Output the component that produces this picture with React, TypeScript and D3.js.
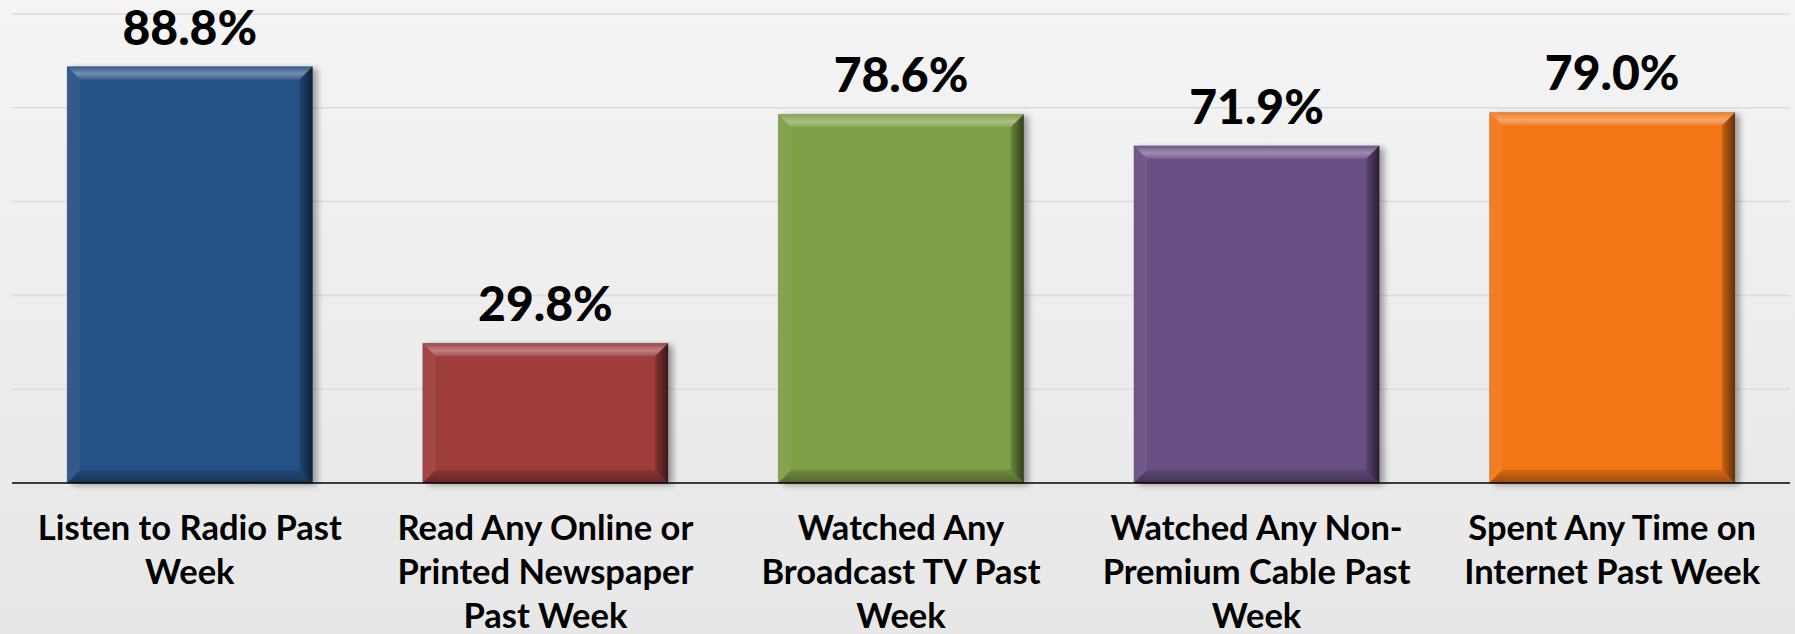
import React from "react";
import * as d3 from "d3";

const categories: string[][] = [
  ["Listen to Radio Past", "Week"],
  ["Read Any Online or", "Printed Newspaper", "Past Week"],
  ["Watched Any", "Broadcast TV Past", "Week"],
  ["Watched Any Non-", "Premium Cable Past", "Week"],
  ["Spent Any Time on", "Internet Past Week"],
];
const values: number[] = [88.8, 29.8, 78.6, 71.9, 79.0];
const colors: string[] = ["#265184", "#9e3b3b", "#7f9e45", "#674f83", "#f27512"];
const gridTicks: number[] = [20, 40, 60, 80, 100];

const W = 1795;
const H = 634;
const left = 12;
const right = 1790;
const baseY = 483;
const topY = 14;

export default function App() {
  const x = d3
    .scaleBand<number>()
    .domain(d3.range(values.length))
    .range([left, right])
    .paddingInner(0.31)
    .paddingOuter(0.155);
  const y = d3.scaleLinear().domain([0, 100]).range([baseY, topY]);
  const font = "Lato, 'Open Sans', sans-serif";
  const b = 13;

  return (
    <svg
      width={W}
      height={H}
      style={{ position: "absolute", left: 0, top: 0 }}
      xmlns="http://www.w3.org/2000/svg"
    >
      <defs>
        <linearGradient id="bg" x1="0" y1="0" x2="0" y2="1">
          <stop offset="0" stopColor="#f4f4f4" />
          <stop offset="1" stopColor="#e7e7e7" />
        </linearGradient>
        <linearGradient id="rightBand" x1="0" y1="0" x2="1" y2="0">
          <stop offset="0" stopColor="#000" stopOpacity="0.15" />
          <stop offset="1" stopColor="#000" stopOpacity="0.6" />
        </linearGradient>
        <linearGradient id="topBand" x1="0" y1="0" x2="0" y2="1">
          <stop offset="0" stopColor="#fff" stopOpacity="0.05" />
          <stop offset="0.55" stopColor="#fff" stopOpacity="0.35" />
          <stop offset="1" stopColor="#fff" stopOpacity="0.1" />
        </linearGradient>
        <linearGradient id="bottomBand" x1="0" y1="0" x2="0" y2="1">
          <stop offset="0" stopColor="#000" stopOpacity="0.12" />
          <stop offset="1" stopColor="#000" stopOpacity="0.35" />
        </linearGradient>
        <filter id="shadow" x="-10%" y="-10%" width="130%" height="130%">
          <feGaussianBlur in="SourceAlpha" stdDeviation="3" />
          <feOffset dx="5" dy="2" result="ob" />
          <feComponentTransfer>
            <feFuncA type="linear" slope="0.35" />
          </feComponentTransfer>
          <feMerge>
            <feMergeNode />
            <feMergeNode in="SourceGraphic" />
          </feMerge>
        </filter>
      </defs>
      <rect x={0} y={0} width={W} height={H} fill="url(#bg)" />
      {gridTicks.map((t) => (
        <line
          key={t}
          x1={left}
          x2={right}
          y1={y(t)}
          y2={y(t)}
          stroke="#dcdcdc"
          strokeWidth={1.5}
        />
      ))}
      {values.map((v, i) => {
        const bx = x(i)!;
        const bw = x.bandwidth();
        const by = y(v);
        const bh = baseY - by;
        return (
          <g key={i}>
            <rect
              x={bx}
              y={by}
              width={bw}
              height={bh}
              fill={colors[i]}
              filter="url(#shadow)"
            />
            <polygon
              points={`${bx},${by} ${bx + bw},${by} ${bx + bw - b},${by + b} ${bx + b},${by + b}`}
              fill="url(#topBand)"
            />
            <polygon
              points={`${bx},${by} ${bx + b},${by + b} ${bx + b},${baseY - b} ${bx},${baseY}`}
              fill="#fff"
              fillOpacity={0.06}
            />
            <polygon
              points={`${bx},${baseY} ${bx + b},${baseY - b} ${bx + bw - b},${baseY - b} ${bx + bw},${baseY}`}
              fill="url(#bottomBand)"
            />
            <polygon
              points={`${bx + bw},${by} ${bx + bw},${baseY} ${bx + bw - b},${baseY - b} ${bx + bw - b},${by + b}`}
              fill="url(#rightBand)"
            />
            <rect
              x={bx}
              y={by}
              width={bw}
              height={bh}
              fill="none"
              stroke="#000"
              strokeOpacity={0.15}
              strokeWidth={1}
            />
            <text
              x={bx + bw / 2}
              y={by - 22}
              textAnchor="middle"
              fontFamily={font}
              fontWeight="900"
              fontSize={48}
              fill="#000"
            >
              {v.toFixed(1)}%
            </text>
          </g>
        );
      })}
      <line x1={left} x2={right} y1={baseY} y2={baseY} stroke="#000" strokeWidth={1.5} />
      {categories.map((lines, i) => (
        <text
          key={i}
          x={x(i)! + x.bandwidth() / 2}
          textAnchor="middle"
          fontFamily={font}
          fontWeight="bold"
          fontSize={34.5}
          fill="#000"
        >
          {lines.map((l, j) => (
            <tspan key={j} x={x(i)! + x.bandwidth() / 2} y={540 + j * 44}>
              {l}
            </tspan>
          ))}
        </text>
      ))}
    </svg>
  );
}
